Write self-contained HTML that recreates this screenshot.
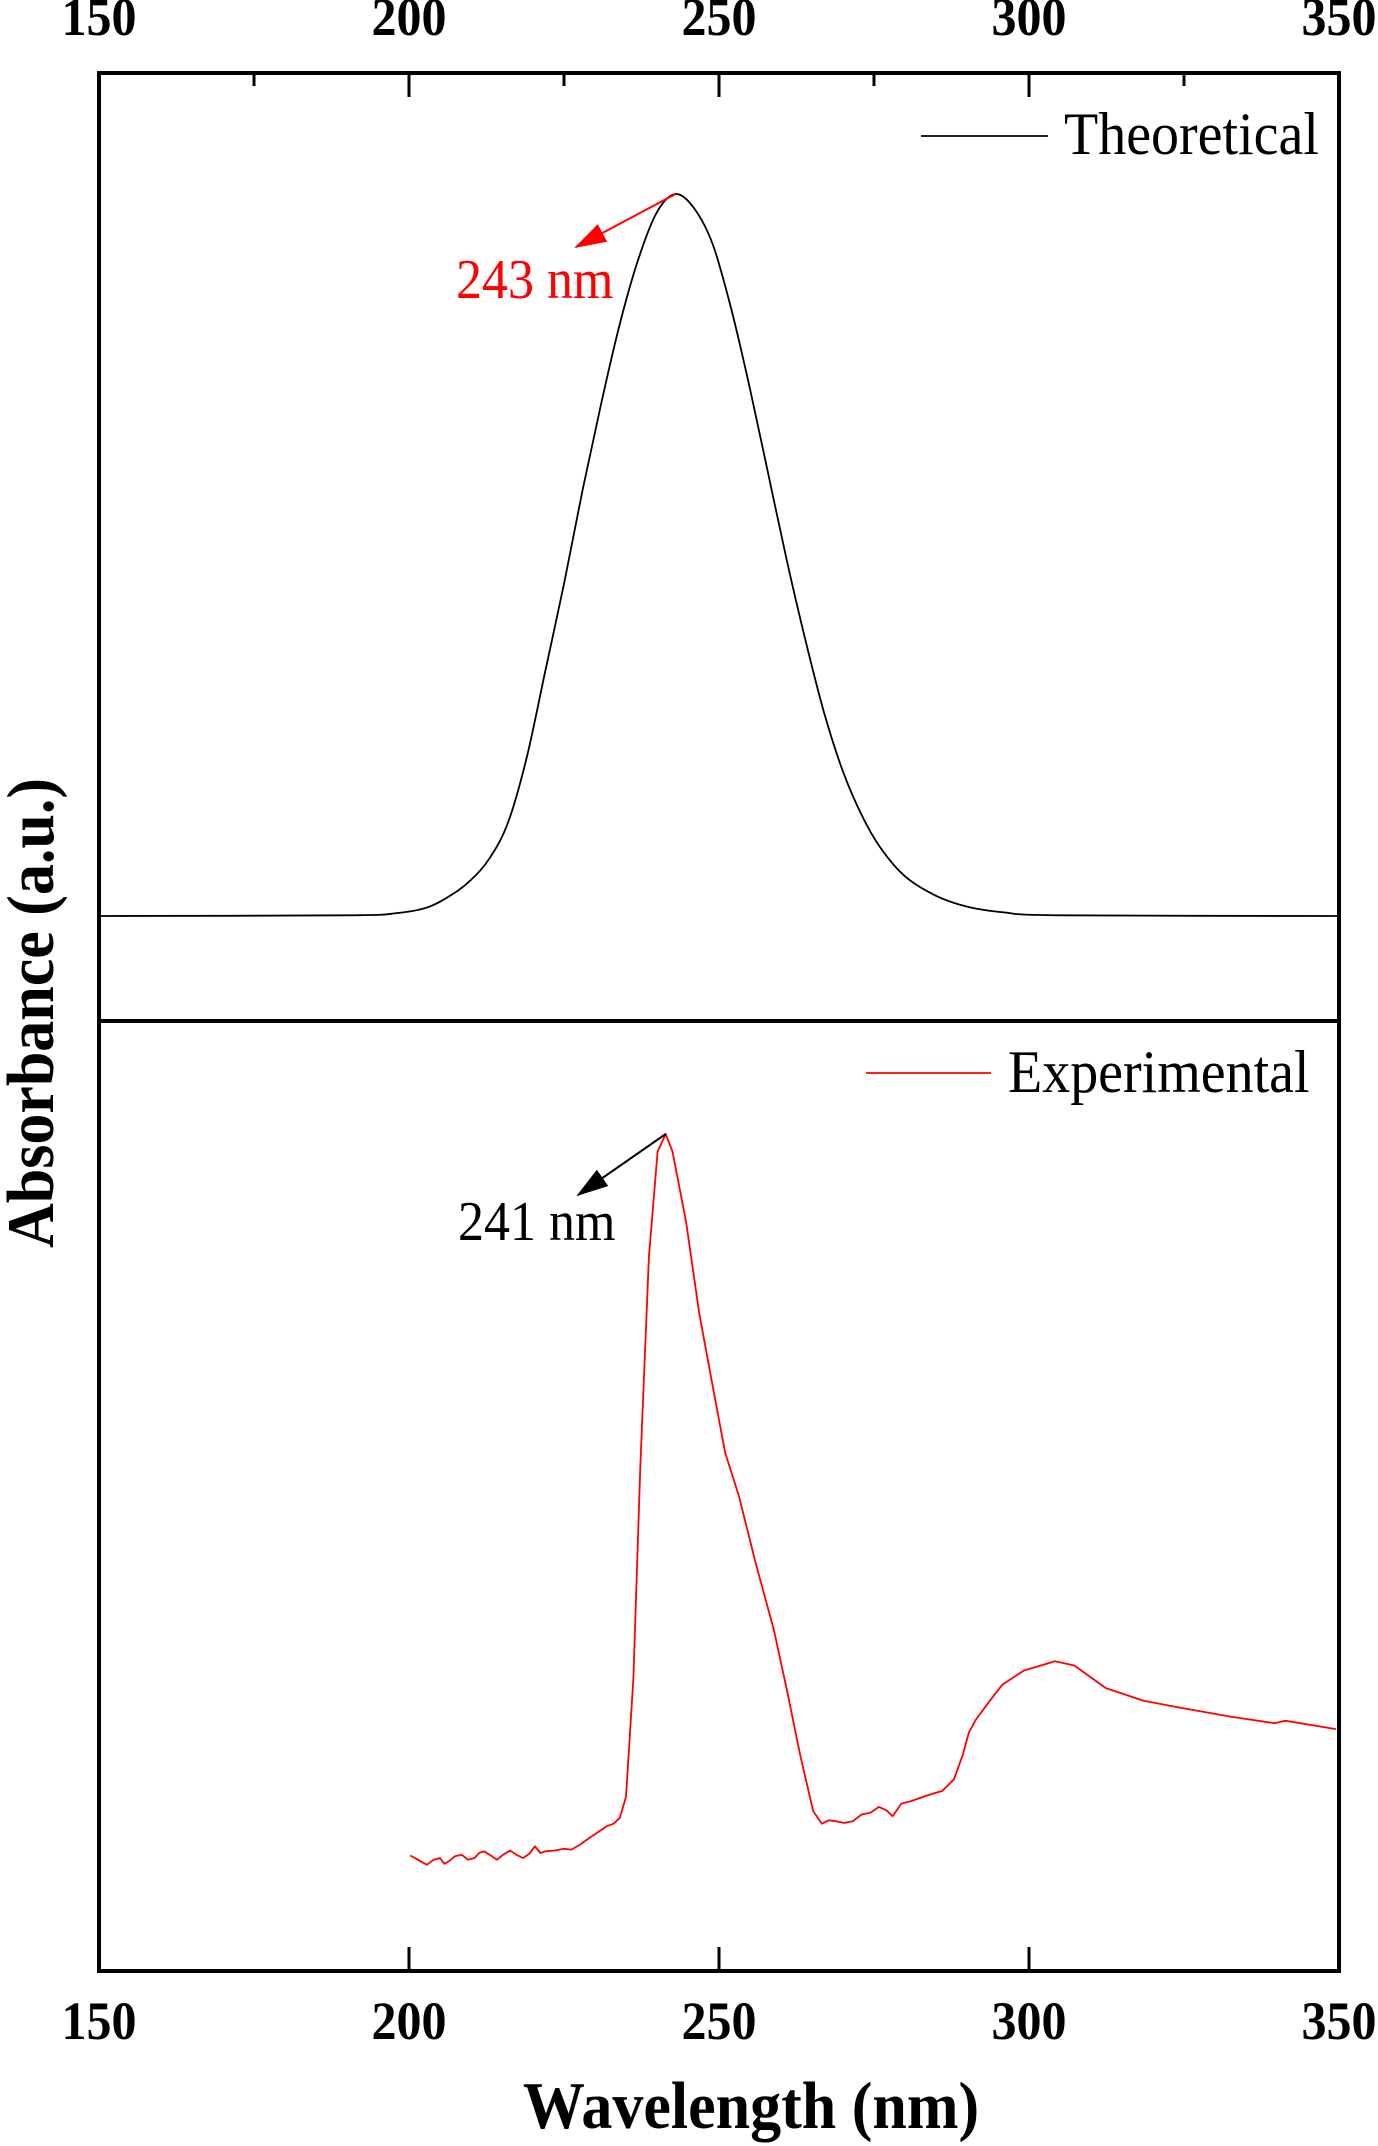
<!DOCTYPE html>
<html><head><meta charset="utf-8">
<style>
html,body{margin:0;padding:0;background:#fff;}
svg{display:block;}
text{font-family:"Liberation Serif",serif;}
</style></head>
<body>
<svg id="chart" width="1378" height="2146" viewBox="0 0 1378 2146" xmlns="http://www.w3.org/2000/svg">
<defs>
<marker id="arrRed" markerWidth="32" markerHeight="20" refX="30" refY="10" orient="auto" markerUnits="userSpaceOnUse" viewBox="0 0 32 20"><path d="M0,0 L32,10 L0,20 z" fill="#ff0000"/></marker>
<marker id="arrBlack" markerWidth="32" markerHeight="20" refX="30" refY="10" orient="auto" markerUnits="userSpaceOnUse" viewBox="0 0 32 20"><path d="M0,0 L32,10 L0,20 z" fill="#000"/></marker>
</defs>
<g id="plot"></g>
</svg>
<script>
const xTicks = [150, 200, 250, 300, 350];
const xMinor = [175, 225, 275, 325];
const theoX = [150, 190, 198, 203, 207, 210, 213, 216, 219, 222, 225, 228, 231, 234, 237, 240, 243, 246, 249, 252, 255, 258, 261, 264, 267, 270, 273, 276, 280, 285, 290, 296, 305, 350];
const theoY = [0, 0.001, 0.004, 0.012, 0.03, 0.05, 0.08, 0.13, 0.22, 0.34, 0.46, 0.59, 0.71, 0.82, 0.91, 0.975, 1.0, 0.98, 0.93, 0.84, 0.73, 0.61, 0.49, 0.38, 0.28, 0.2, 0.14, 0.095, 0.055, 0.028, 0.013, 0.005, 0.001, 0];
const expX = [200.2, 201.2, 202.1, 202.9, 204, 205, 205.7, 206.4, 207.4, 208.5, 209.5, 210.6, 211.3, 212.1, 213.2, 214.2, 215.2, 216.3, 217.3, 218.4, 219.4, 220.3, 221.2, 222, 223.5, 225, 226.2, 227.6, 229.1, 230.5, 231.9, 233, 234, 235, 236.2, 237.3, 238.7, 240.1, 241.4, 242.5, 244.7, 246.8, 248.9, 251, 253.2, 256, 258.8, 261, 263.1, 265.2, 266.6, 267.7, 268.8, 270.2, 271.6, 273, 274.4, 275.8, 277, 278, 279.4, 281, 282.9, 284.5, 286, 287.9, 289.3, 290.3, 291.4, 293.5, 295.7, 299.2, 304.2, 307.3, 312.4, 318.4, 324, 332.5, 339.6, 341.3, 349.5];
const expY = [0.138, 0.134, 0.13, 0.127, 0.133, 0.135, 0.128, 0.131, 0.137, 0.139, 0.133, 0.135, 0.141, 0.143, 0.138, 0.133, 0.139, 0.144, 0.139, 0.135, 0.14, 0.149, 0.141, 0.143, 0.144, 0.146, 0.145, 0.151, 0.159, 0.166, 0.173, 0.176, 0.183, 0.208, 0.35, 0.602, 0.853, 0.979, 1.0, 0.979, 0.895, 0.786, 0.702, 0.619, 0.568, 0.485, 0.409, 0.334, 0.258, 0.191, 0.176, 0.18, 0.179, 0.177, 0.179, 0.187, 0.189, 0.196, 0.192, 0.185, 0.2, 0.203, 0.208, 0.212, 0.215, 0.229, 0.258, 0.285, 0.3, 0.321, 0.342, 0.359, 0.370, 0.365, 0.338, 0.323, 0.315, 0.304, 0.296, 0.299, 0.289];

const NS = "http://www.w3.org/2000/svg";
const g = document.getElementById('plot');
const L = 99, R = 1339, T = 73, MID = 1021, B = 1971;
const SY = 1.08;
const xs = v => L + (v - 150) / 200 * (R - L);
const yTop = v => 916 - v * (916 - 194);
const yBot = v => 1971 - v * (1971 - 1134);

function mk(tag, attrs) {
  const e = document.createElementNS(NS, tag);
  for (const k in attrs) e.setAttribute(k, attrs[k]);
  g.appendChild(e);
  return e;
}
function txt(x, y, size, extra) {
  const a = Object.assign({x: 0, y: 0, 'font-size': size, transform: 'translate(' + x + ',' + y + ') scale(1,' + SY + ')'}, extra || {});
  return mk('text', a);
}
function smoothPath(px, py) {
  let d = 'M' + px[0].toFixed(1) + ',' + py[0].toFixed(1);
  for (let i = 0; i < px.length - 1; i++) {
    const x0 = px[Math.max(i - 1, 0)], y0 = py[Math.max(i - 1, 0)];
    const x1 = px[i], y1 = py[i], x2 = px[i + 1], y2 = py[i + 1];
    const x3 = px[Math.min(i + 2, px.length - 1)], y3 = py[Math.min(i + 2, px.length - 1)];
    const c1x = x1 + (x2 - x0) / 6, c1y = y1 + (y2 - y0) / 6;
    const c2x = x2 - (x3 - x1) / 6, c2y = y2 - (y3 - y1) / 6;
    d += ' C' + c1x.toFixed(1) + ',' + c1y.toFixed(1) + ' ' + c2x.toFixed(1) + ',' + c2y.toFixed(1) + ' ' + x2.toFixed(1) + ',' + y2.toFixed(1);
  }
  return d;
}

const tp = mk('path', {d: smoothPath(theoX.map(xs), theoY.map(yTop)), fill: 'none', stroke: '#000', 'stroke-width': 1.8});


let ed = '';
expX.forEach((v, i) => { ed += (i ? ' L' : 'M') + xs(v).toFixed(1) + ',' + yBot(expY[i]).toFixed(1); });
const ep = mk('path', {d: ed, fill: 'none', stroke: '#ff0000', 'stroke-width': 1.8, 'stroke-linejoin': 'round'});



const fr = mk('rect', {x: L, y: T, width: R - L, height: B - T, fill: 'none', stroke: '#000', 'stroke-width': 4});


const dv = mk('line', {x1: L, x2: R, y1: MID, y2: MID, stroke: '#000', 'stroke-width': 4});



xTicks.forEach(v => {
  const t1 = mk('line', {x1: xs(v), x2: xs(v), y1: T, y2: T + 24, stroke: '#000', 'stroke-width': 3});
  
  
  const t2 = mk('line', {x1: xs(v), x2: xs(v), y1: B, y2: B - 24, stroke: '#000', 'stroke-width': 3});
  
  
  const l1 = txt(xs(v), 35, 50, {'text-anchor': 'middle', 'font-weight': 'bold'});
  l1.textContent = v;
  
  
  const l2 = txt(xs(v), 2039, 50, {'text-anchor': 'middle', 'font-weight': 'bold'});
  l2.textContent = v;
  
  
});
xMinor.forEach(v => {
  const t1 = mk('line', {x1: xs(v), x2: xs(v), y1: T, y2: T + 13, stroke: '#000', 'stroke-width': 3});
  
  
});

const lg1 = mk('line', {x1: 921, x2: 1048, y1: 136, y2: 136, stroke: '#000', 'stroke-width': 1.8});


const lt1 = txt(1064, 154, 56);
lt1.textContent = 'Theoretical';


const lg2 = mk('line', {x1: 866, x2: 991, y1: 1073, y2: 1073, stroke: '#ff0000', 'stroke-width': 1.8});


const lt2 = txt(1008, 1092, 56);
lt2.textContent = 'Experimental';



const a1 = mk('line', {x1: xs(243), y1: yTop(1), x2: 576, y2: 247, stroke: '#ff0000', 'stroke-width': 2, 'marker-end': 'url(#arrRed)'});


const at1 = txt(456, 298, 52, {fill: '#ff0000'});
at1.textContent = '243 nm';


const a2 = mk('line', {x1: xs(241.4), y1: yBot(1), x2: 578, y2: 1195, stroke: '#000', 'stroke-width': 2, 'marker-end': 'url(#arrBlack)'});


const at2 = txt(458, 1240, 52);
at2.textContent = '241 nm';



const xt = txt(751, 2128, 62, {'text-anchor': 'middle', 'font-weight': 'bold'});
xt.textContent = 'Wavelength (nm)';


const yt = mk('text', {x: 0, y: 0, 'text-anchor': 'middle', 'font-size': 62, 'font-weight': 'bold', transform: 'translate(53,1013) rotate(-90) scale(1,1.08)'});
yt.textContent = 'Absorbance (a.u.)';


</script>
</body></html>
